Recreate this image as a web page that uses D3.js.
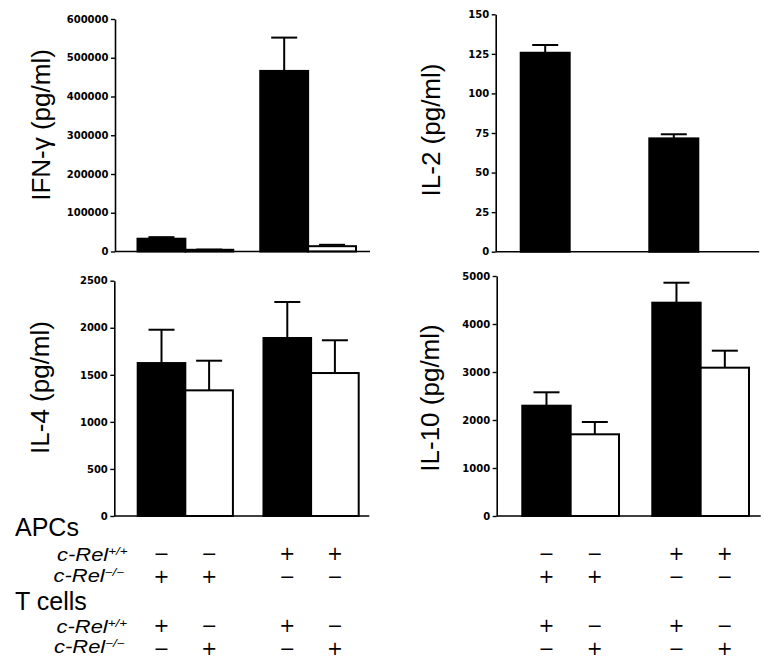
<!DOCTYPE html>
<html>
<head>
<meta charset="utf-8">
<script src="https://cdn.jsdelivr.net/npm/d3@7"></script>
<style>
  html, body { margin: 0; padding: 0; background: #fff; }
  svg { display: block; }
</style>
</head>
<body>
<svg id="chart" width="784" height="669"></svg>
<script>
// ---------- DATA ----------
const columns = ["c1", "c2", "c3", "c4"];
const groups = ["g1", "g2"];
const barFills = ["#000", "#fff", "#000", "#fff"];

const ifnValues = [33000, 4400, 466000, 13700];
const ifnErrors = [4000, 600, 86000, 3600];
const ifnTicks = [0, 100000, 200000, 300000, 400000, 500000, 600000];

const il2Values = [125.7, null, 71.6, null];
const il2Errors = [4.9, null, 2.6, null];
const il2Ticks = [0, 25, 50, 75, 100, 125, 150];

const il4Values = [1625, 1335, 1891, 1519];
const il4Errors = [354, 315, 383, 348];
const il4Ticks = [0, 500, 1000, 1500, 2000, 2500];

const il10Values = [2298, 1702, 4444, 3090];
const il10Errors = [279, 256, 416, 354];
const il10Ticks = [0, 1000, 2000, 3000, 4000, 5000];

const apcWT = ["\u2212", "\u2212", "+", "+"];
const apcKO = ["+", "+", "\u2212", "\u2212"];
const tWT   = ["+", "\u2212", "+", "\u2212"];
const tKO   = ["\u2212", "+", "\u2212", "+"];

// ---------- LAYOUT ----------
const panels = [
  { label: "IFN-\u03b3 (pg/ml)", values: ifnValues, errors: ifnErrors, ticks: ifnTicks,
    x0: 115, y0: 251.5, yTop: 19, axisLen: 255, barRange: [22.5, 241], pInner: 0.22,
    labelX: 50, labelY: 125 },
  { label: "IL-2 (pg/ml)", values: il2Values, errors: il2Errors, ticks: il2Ticks,
    x0: 495.7, y0: 251.7, yTop: 14.3, axisLen: 263.5, barRange: [25, 251.6], pInner: 0.238,
    labelX: 439.5, labelY: 130 },
  { label: "IL-4 (pg/ml)", values: il4Values, errors: il4Errors, ticks: il4Ticks,
    x0: 114.3, y0: 516, yTop: 280.7, axisLen: 255, barRange: [23.4, 244.4], pInner: 0.243,
    labelX: 48.5, labelY: 387.5 },
  { label: "IL-10 (pg/ml)", values: il10Values, errors: il10Errors, ticks: il10Ticks,
    x0: 496.7, y0: 516, yTop: 276, axisLen: 264, barRange: [25.6, 252.3], pInner: 0.256,
    labelX: 438.5, labelY: 398 }
];

const svg = d3.select("#chart");
const capW = 26;

function colCenter(p, i) {
  const gx = d3.scaleBand().domain(groups).range(p.barRange).paddingInner(p.pInner).paddingOuter(0);
  const ix = d3.scaleBand().domain(["a", "b"]).range([0, gx.bandwidth()]).padding(0);
  const g = groups[Math.floor(i / 2)];
  const k = i % 2 === 0 ? "a" : "b";
  return { x: p.x0 + gx(g) + ix(k), w: ix.bandwidth() };
}

panels.forEach(p => {
  const g = svg.append("g");
  const y = d3.scaleLinear()
    .domain([0, p.ticks[p.ticks.length - 1]])
    .range([p.y0, p.yTop]);

  // bars
  columns.forEach((c, i) => {
    const v = p.values[i];
    if (v == null) return;
    const b = colCenter(p, i);
    g.append("rect")
      .attr("x", b.x)
      .attr("y", y(v))
      .attr("width", b.w)
      .attr("height", p.y0 - y(v))
      .attr("fill", barFills[i])
      .attr("stroke", "#000")
      .attr("stroke-width", 2);
    const e = p.errors[i];
    const cx = b.x + b.w / 2;
    g.append("line")
      .attr("x1", cx).attr("x2", cx)
      .attr("y1", y(v)).attr("y2", y(v + e))
      .attr("stroke", "#000").attr("stroke-width", 2);
    g.append("line")
      .attr("x1", cx - capW / 2).attr("x2", cx + capW / 2)
      .attr("y1", y(v + e)).attr("y2", y(v + e))
      .attr("stroke", "#000").attr("stroke-width", 2);
  });

  // x axis line
  g.append("line")
    .attr("x1", p.x0).attr("x2", p.x0 + p.axisLen)
    .attr("y1", p.y0).attr("y2", p.y0)
    .attr("stroke", "#000").attr("stroke-width", 1.6);

  // y axis
  const ax = g.append("g")
    .attr("transform", `translate(${p.x0},0)`)
    .call(d3.axisLeft(y).tickValues(p.ticks).tickFormat(d3.format("d"))
      .tickSize(4).tickSizeOuter(0).tickPadding(2.5));
  ax.select(".domain").attr("stroke", "#000").attr("stroke-width", 1.6);
  ax.selectAll(".tick line").attr("stroke", "#000").attr("stroke-width", 1.4);
  ax.selectAll(".tick text")
    .attr("fill", "#000")
    .style("font-family", "'DejaVu Sans', sans-serif")
    .style("font-weight", "bold")
    .style("font-size", "10px");

  // y label
  svg.append("text")
    .attr("transform", `translate(${p.labelX},${p.labelY}) rotate(-90)`)
    .attr("text-anchor", "middle")
    .style("font-family", "'Liberation Sans', Arial, sans-serif")
    .style("font-size", "26px")
    .attr("fill", "#000")
    .text(p.label);
});

// ---------- condition table ----------
const txtFont = "'Liberation Sans', Arial, sans-serif";
svg.append("text").attr("x", 15).attr("y", 536)
  .style("font-family", txtFont).style("font-size", "25px").text("APCs");
svg.append("text").attr("x", 15).attr("y", 610)
  .style("font-family", txtFont).style("font-size", "25px").text("T cells");

const rowLabels = [
  { sup: "+/+", x: 57, y: 561 },
  { sup: "\u2212/\u2212", x: 53.5, y: 581.7 },
  { sup: "+/+", x: 56.5, y: 633.3 },
  { sup: "\u2212/\u2212", x: 54, y: 652.5 }
];
rowLabels.forEach(r => {
  const t = svg.append("g")
    .attr("transform", `translate(${r.x},${r.y}) scale(1.22,1)`)
    .append("text")
    .style("font-family", txtFont)
    .style("font-style", "italic")
    .style("font-size", "18px");
  t.append("tspan").text("c-Rel");
  t.append("tspan").attr("dy", -6).style("font-size", "11px").text(r.sup);
});

const rows = [
  { signs: apcWT, cy: 553.2 },
  { signs: apcKO, cy: 575.8 },
  { signs: tWT, cy: 625.6 },
  { signs: tKO, cy: 648.2 }
];
[panels[2], panels[3]].forEach(p => {
  rows.forEach(r => {
    r.signs.forEach((s, i) => {
      const b = colCenter(p, i);
      svg.append("text")
        .attr("x", b.x + b.w / 2)
        .attr("y", r.cy + 6.8)
        .attr("text-anchor", "middle")
        .style("font-family", "'DejaVu Sans', sans-serif")
        .style("font-size", "19px")
        .text(s);
    });
  });
});
</script>
</body>
</html>
